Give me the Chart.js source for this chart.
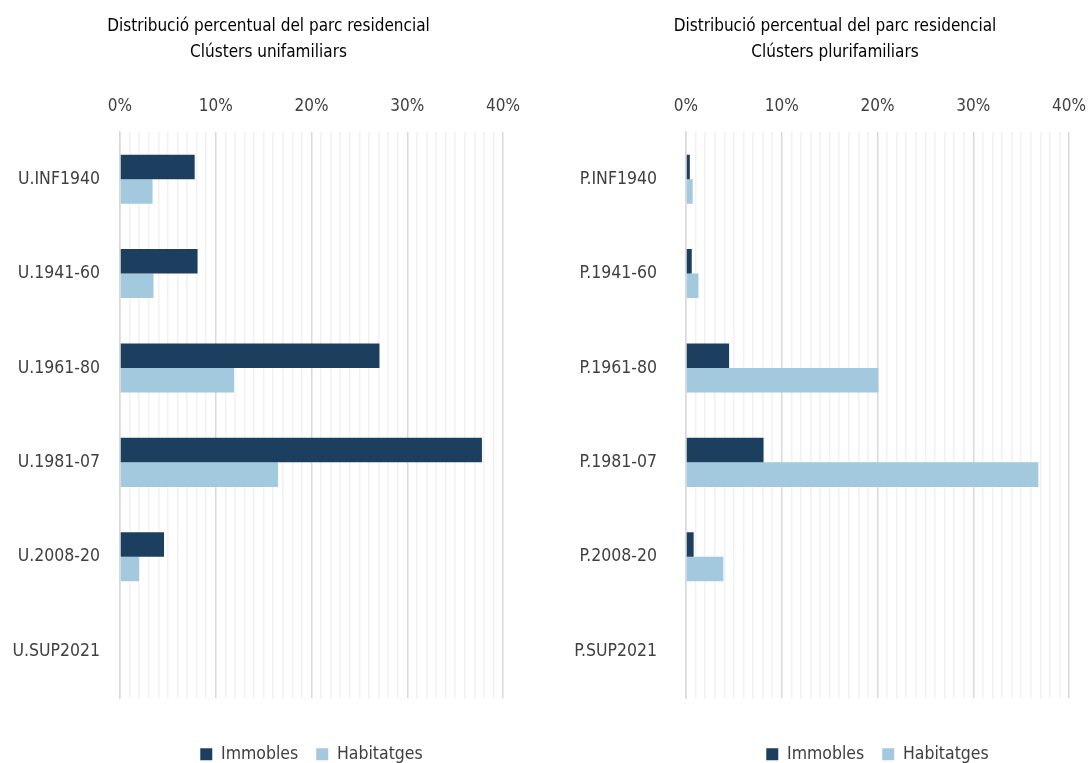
<!DOCTYPE html>
<html lang="ca">
<head>
<meta charset="utf-8">
<title>Distribució percentual del parc residencial</title>
<script src="https://cdn.jsdelivr.net/npm/chart.js@4.4.1/dist/chart.umd.min.js"></script>
<style>
  html, body { margin: 0; padding: 0; background: #fff; overflow: hidden; }
  #wrap { position: relative; width: 1088px; height: 763px; }
  canvas { position: absolute; top: 0; }
  #chart-u { left: 0; }
  #chart-p { left: 544px; }
</style>
</head>
<body>
<div id="wrap">
  <canvas id="chart-u" width="544" height="763"></canvas>
  <canvas id="chart-p" width="544" height="763"></canvas>
</div>
<script>
// Dades llegides del gràfic original (percentatge sobre el total)
const CATS_U = ["U.INF1940", "U.1941-60", "U.1961-80", "U.1981-07", "U.2008-20", "U.SUP2021"];
const CATS_P = ["P.INF1940", "P.1941-60", "P.1961-80", "P.1981-07", "P.2008-20", "P.SUP2021"];
const IMMOBLES_U = [7.8, 8.1, 27.1, 37.8, 4.6, 0];
const HABITATGES_U = [3.4, 3.5, 11.9, 16.5, 2.0, 0];
const IMMOBLES_P = [0.4, 0.6, 4.5, 8.1, 0.8, 0];
const HABITATGES_P = [0.7, 1.3, 20.1, 36.8, 3.9, 0];
const SERIES = ["Immobles", "Habitatges"];
const X_MIN = 0, X_MAX = 40, X_STEP = 1, X_LABEL_EVERY = 10;
const TITLE_U = ["Distribució percentual del parc residencial", "Clústers unifamiliars"];
const TITLE_P = ["Distribució percentual del parc residencial", "Clústers plurifamiliars"];

const COLORS = { immobles: "#1c3f5f", habitatges: "#a2c9dd", major: "#d9d9d9", minor: "#f1f1f1" };
const FONT = "'Liberation Sans Narrow', 'Arial Narrow', 'DejaVu Sans Condensed', sans-serif";
Chart.defaults.font.family = FONT;
Chart.defaults.color = "#404040";

// Títol en dues línies, centrat on ho fa l'original (no sobre tot el canvas)
const twoLineTitle = {
  id: "twoLineTitle",
  afterDraw(chart, args, opts) {
    const ctx = chart.ctx;
    ctx.save();
    ctx.font = `${opts.size}px ${FONT}`;
    ctx.fillStyle = opts.color;
    ctx.textAlign = "center";
    ctx.textBaseline = "middle";
    opts.lines.forEach((l, i) => ctx.fillText(l, opts.x, opts.y + i * opts.lineHeight));
    ctx.restore();
  },
};

function makeChart(id, cats, immobles, habitatges, title, g) {
  return new Chart(document.getElementById(id), {
    type: "bar",
    data: {
      labels: cats,
      datasets: [
        { label: SERIES[0], data: immobles, backgroundColor: COLORS.immobles },
        { label: SERIES[1], data: habitatges, backgroundColor: COLORS.habitatges },
      ],
    },
    plugins: [twoLineTitle],
    options: {
      indexAxis: "y",
      responsive: false,
      animation: false,
      categoryPercentage: 0.52,
      barPercentage: 1,
      layout: { padding: { left: 0, right: g.padRight, top: 92, bottom: -10 } },
      scales: {
        x: {
          position: "top",
          min: X_MIN,
          max: X_MAX,
          // alçada fixa i sense el marge extra que Chart.js reserva per a "0%" i "40%"
          afterFit: (s) => { s.height = 40; s.paddingLeft = 0; s.paddingRight = 0; },
          ticks: {
            stepSize: X_STEP,
            autoSkip: false,
            maxRotation: 0,
            padding: 15,
            font: { size: 17 },
            callback: (v) => (v % X_LABEL_EVERY === 0 ? v + "%" : ""),
          },
          grid: {
            drawTicks: false,
            lineWidth: 1.5,
            color: (c) => (c.tick && c.tick.value % X_LABEL_EVERY === 0 ? COLORS.major : COLORS.minor),
          },
          border: { display: false },
        },
        y: {
          afterFit: (s) => { s.width = g.yWidth; },
          ticks: { padding: g.yPad, font: { size: 17.5 } },
          grid: { display: false, drawTicks: false },
          border: { color: COLORS.major, width: 1.5 },
        },
      },
      plugins: {
        legend: {
          position: "bottom",
          fullSize: false,
          title: { display: true, text: "", font: { size: 1 }, padding: { top: 28, bottom: 0 } },
          labels: { boxWidth: 12, boxHeight: 12, padding: 18, font: { size: 17.5 } },
        },
        tooltip: { enabled: false },
        twoLineTitle: { lines: title, x: g.titleX, y: 27, lineHeight: 26, size: 17, color: "#000" },
      },
    },
  });
}

makeChart("chart-u", CATS_U, IMMOBLES_U, HABITATGES_U, TITLE_U,
  { padRight: 41, yWidth: 120, yPad: 20, titleX: 268.5 });
makeChart("chart-p", CATS_P, IMMOBLES_P, HABITATGES_P, TITLE_P,
  { padRight: 19, yWidth: 142, yPad: 29, titleX: 291 });
</script>
</body>
</html>
